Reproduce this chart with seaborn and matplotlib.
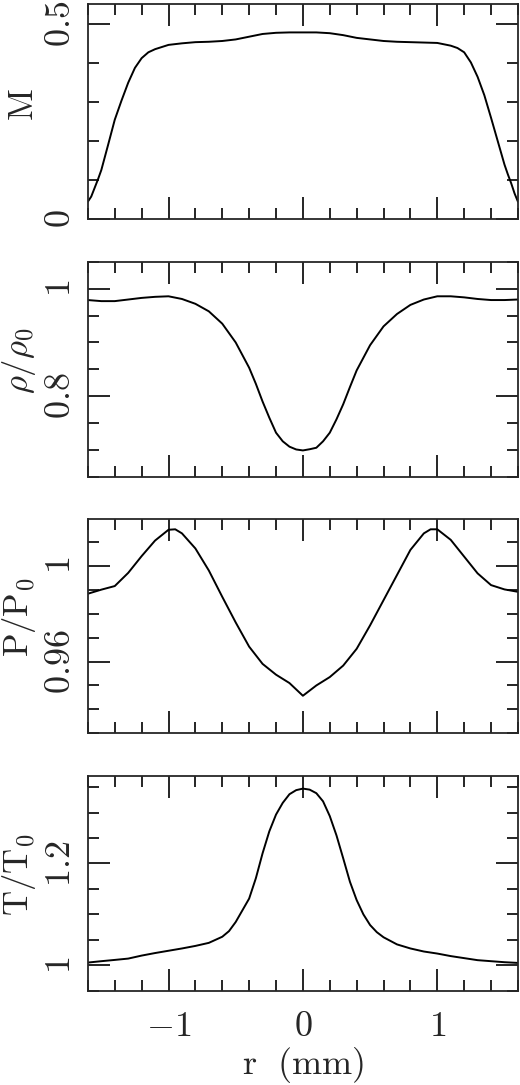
import numpy as np
import pandas as pd
import seaborn as sns
import matplotlib
matplotlib.use('Agg')
import matplotlib.pyplot as plt
from matplotlib.ticker import MultipleLocator, FuncFormatter

# values, r in mm
r_M = [-1.6, -1.575, -1.55, -1.525, -1.5, -1.45, -1.4, -1.35, -1.3, -1.25, -1.2, -1.15, -1.1, -1.0, -0.9, -0.8,
       -0.7, -0.6, -0.5, -0.4, -0.3, -0.2, -0.1, 0.0, 0.1, 0.2, 0.3, 0.4, 0.5, 0.6, 0.7,
       0.8, 0.9, 1.0, 1.1, 1.15, 1.2, 1.25, 1.3, 1.35, 1.4, 1.45, 1.5, 1.525, 1.55, 1.575, 1.6]
M_vals = [0.045, 0.058, 0.08, 0.102, 0.126, 0.19, 0.255, 0.304, 0.35, 0.388, 0.413, 0.428, 0.436, 0.447, 0.451, 0.454,
          0.455, 0.457, 0.461, 0.468, 0.475, 0.478, 0.479, 0.479, 0.479, 0.477, 0.472, 0.465, 0.461, 0.457, 0.455,
          0.454, 0.453, 0.452, 0.445, 0.439, 0.428, 0.402, 0.365, 0.318, 0.26, 0.2, 0.14, 0.115, 0.092, 0.066, 0.045]

r_rho = [-1.6, -1.5, -1.4, -1.3, -1.2, -1.1, -1.0, -0.9, -0.8, -0.7, -0.6, -0.5, -0.4, -0.35, -0.3,
         -0.25, -0.2, -0.15, -0.1, -0.05, 0.0, 0.05, 0.1, 0.15, 0.2, 0.25, 0.3, 0.35, 0.4, 0.5, 0.6,
         0.7, 0.8, 0.9, 1.0, 1.1, 1.2, 1.3, 1.4, 1.5, 1.6]
rho_vals = [0.979, 0.977, 0.977, 0.980, 0.983, 0.985, 0.986, 0.981, 0.972, 0.958, 0.935, 0.900, 0.853, 0.823, 0.790,
            0.760, 0.732, 0.716, 0.706, 0.7008, 0.699, 0.7012, 0.704, 0.716, 0.732, 0.757, 0.785, 0.817, 0.848, 0.895, 0.930,
            0.953, 0.970, 0.980, 0.986, 0.986, 0.984, 0.981, 0.979, 0.979, 0.980]

r_P = [-1.6, -1.5, -1.4, -1.3, -1.2, -1.1, -1.0, -0.95, -0.9, -0.8, -0.7, -0.6, -0.5, -0.4,
       -0.3, -0.2, -0.1, 0.0, 0.1, 0.2, 0.3, 0.4, 0.5, 0.6, 0.7, 0.8, 0.9, 0.95, 1.0,
       1.1, 1.2, 1.3, 1.4, 1.5, 1.6]
P_vals = [0.9883, 0.9900, 0.9915, 0.9970, 1.0040, 1.0105, 1.0150, 1.0152, 1.0135, 1.0072, 0.9980, 0.9870, 0.9763, 0.9662,
          0.9590, 0.9545, 0.9510, 0.9457, 0.9500, 0.9535, 0.9583, 0.9653, 0.9751, 0.9856, 0.9961, 1.0066, 1.0135, 1.0152, 1.0152,
          1.0108, 1.0038, 0.9968, 0.9919, 0.9901, 0.9891]

r_T = [-1.6, -1.5, -1.4, -1.3, -1.2, -1.1, -1.0, -0.9, -0.8, -0.7, -0.6, -0.55, -0.5, -0.45, -0.4,
       -0.35, -0.3, -0.25, -0.2, -0.15, -0.1, -0.05, 0.0, 0.05, 0.1, 0.15, 0.2, 0.25, 0.3, 0.35, 0.4,
       0.45, 0.5, 0.55, 0.6, 0.7, 0.8, 0.9, 1.0, 1.1, 1.2, 1.3, 1.4, 1.5, 1.6]
T_vals = [1.0053, 1.008, 1.0105, 1.0131, 1.019, 1.024, 1.0285, 1.033, 1.038, 1.044, 1.056, 1.067, 1.085, 1.108, 1.131,
          1.171, 1.220, 1.263, 1.296, 1.319, 1.336, 1.344, 1.347, 1.345, 1.338, 1.322, 1.293, 1.255, 1.210, 1.164, 1.128,
          1.100, 1.079, 1.065, 1.055, 1.041, 1.033, 1.027, 1.023, 1.018, 1.014, 1.010, 1.008, 1.006, 1.0046]

ylabels = ['M', r'$\rho/\rho_0$', r'$\mathrm{P/P_0}$', r'$\mathrm{T/T_0}$']
ylims = [(0, 0.551), (0.65, 1.05), (0.93, 1.0197), (0.95, 1.372)]
y_major = [0.5, 0.2, 0.04, 0.2]
y_minor = [0.1, 0.05, 0.01, 0.05]

sns.set_style('ticks')
plt.rcParams['mathtext.fontset'] = 'cm'
plt.rcParams['font.family'] = ['cmr10', 'DejaVu Serif']
plt.rcParams['axes.linewidth'] = 1.3


def tex_fmt(v, pos):
    v = round(v, 6)
    if v == 0:
        v = 0.0
    return f'${v:g}$'


fig = plt.figure(figsize=(5.2, 10.85), dpi=100)
left, width, height = 0.169, 0.827, 0.198
bottoms = [0.798, 0.5606, 0.3241, 0.0869]
series = [(r_M, M_vals), (r_rho, rho_vals), (r_P, P_vals), (r_T, T_vals)]

for i, (rr, vals) in enumerate(series):
    ax = fig.add_axes([left, bottoms[i], width, height])
    df = pd.DataFrame({'r': rr, 'v': vals})
    sns.lineplot(data=df, x='r', y='v', ax=ax, color='black', lw=1.4,
                 estimator=None, sort=False)
    ax.set_xlim(-1.6, 1.6)
    ax.set_ylim(*ylims[i])
    ax.xaxis.set_major_locator(MultipleLocator(1))
    ax.xaxis.set_minor_locator(MultipleLocator(0.2))
    ax.yaxis.set_major_locator(MultipleLocator(y_major[i]))
    ax.yaxis.set_minor_locator(MultipleLocator(y_minor[i]))
    ax.xaxis.set_major_formatter(FuncFormatter(tex_fmt))
    ax.yaxis.set_major_formatter(FuncFormatter(tex_fmt))
    ax.tick_params(which='both', direction='in', top=True, right=True, width=1.2, color='black')
    ax.tick_params(which='major', length=16)
    ax.tick_params(which='minor', length=8)
    ax.tick_params(axis='y', labelsize=26, labelrotation=90, pad=8)
    ax.tick_params(axis='x', labelsize=26, pad=15, labelbottom=(i == 3))
    for lab in ax.get_yticklabels():
        lab.set_va('center')
    ax.set_ylabel(ylabels[i], fontsize=25)
    ax.yaxis.set_label_coords(-0.115, 0.54)
    if i == 3:
        ax.set_xlabel(r'$\mathrm{r\ \ (mm)}$', fontsize=26)
        ax.xaxis.set_label_coords(0.5, -0.255)
    else:
        ax.set_xlabel('')

fig.savefig('out.png', dpi=100)
